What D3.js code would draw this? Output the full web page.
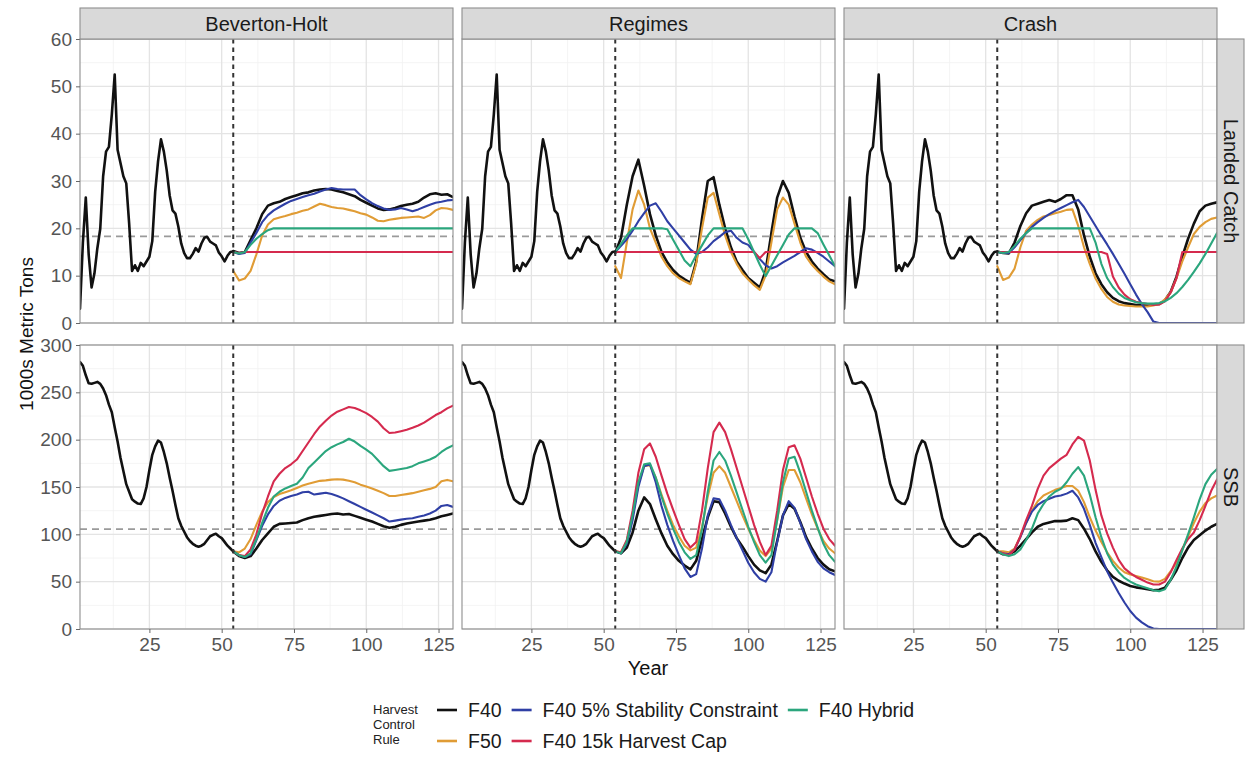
<!DOCTYPE html>
<html><head><meta charset="utf-8">
<script src="https://cdn.jsdelivr.net/npm/d3@7"></script>
<style>
body{margin:0;background:#fff}
svg{display:block}
text{font-family:"Liberation Sans",Arial,Helvetica,sans-serif}
</style>
</head><body>
<svg id="chart" width="1247" height="759"></svg>
<script>
// ---------------- DATA ----------------
const scenarios = ["Beverton-Holt", "Regimes", "Crash"];
const metrics = ["Landed Catch", "SSB"];
const rules = ["F40", "F50", "F40 5% Stability Constraint", "F40 15k Harvest Cap", "F40 Hybrid"];
const ruleColors = ["#111111", "#E09C35", "#2F3FA5", "#D52A4E", "#2BA67D"];

const xTicks = [25, 50, 75, 100, 125];
const xMinorTicks = [12.5, 37.5, 62.5, 87.5, 112.5];
const yTicksCatch = [0, 10, 20, 30, 40, 50, 60];
const yMinorCatch = [5, 15, 25, 35, 45, 55];
const yTicksSSB = [0, 50, 100, 150, 200, 250, 300];
const yMinorSSB = [25, 75, 125, 175, 225, 275];

const refCatch = 18.3;
const refSSB = 105.5;
const projStart = 54;

const histYears = [1,2,3,4,5,6,7,8,9,10,11,12,13,14,15,16,17,18,19,20,21,22,23,24,25,26,27,28,29,30,31,32,33,34,35,36,37,38,39,40,41,42,43,44,45,46,47,48,49,50,51,52,53,54];
const histCatch = [3,17,26.5,14.5,7.5,10.5,15.8,19.9,31,36.2,37.2,44,52.5,36.6,33.8,31,29.5,21,11,12.2,11,12.7,12,13,14,17.3,27.7,34.2,38.8,36.2,32.2,27,23.8,23.1,20.4,16.8,14.8,13.7,13.7,14.6,15.8,15.1,16.8,18,18.2,17.2,16.8,16.4,14.9,14.1,13,14.2,15,15.1];
const histSSB = [282,278,268,259.5,259,260,261,259,254,247,237,229,213,198,181,167,153,145,137,134.5,132.5,132,138,150,168,184,193,199,197,187,175,160,146,131,117,109,103,97,93,90,88,87,88,90,94,98,99.5,100.5,98,96,92,88,85,82];

const projYears = [54,56,58,60,62,64,66,68,70,72,74,76,78,80,82,84,86,88,90,92,94,96,98,100,102,104,106,108,110,112,114,116,118,120,122,124,126,128,130];

// Landed catch, Beverton-Holt
const catchBH_F40  = [15.2,14.8,15,17.5,20,23,24.8,25.3,25.6,26.2,26.6,27,27.4,27.6,28,28.2,28.3,28.2,27.9,27.6,27.2,26.8,26,25.4,24.8,24.2,23.9,24,24.3,24.7,25,25.2,25.6,26.5,27.2,27.4,27.1,27.2,26.6];
const catchBH_F50  = [11,9,9.4,11,14.5,18.5,20.8,21.9,22.3,22.6,23,23.3,23.7,24,24.6,25.2,24.9,24.5,24.3,24.2,23.9,23.6,23.2,22.9,22.3,21.6,21.5,21.8,22,22.2,22.3,22.4,22.5,22.2,22.8,23.8,24.3,24.2,23.9];
const catchBH_Stab = [15,14.6,14.8,17,19,21.3,22.8,23.8,24.5,25.2,25.8,26.2,26.6,27,27.3,27.8,28.2,28.5,28.3,28.2,28.2,28.2,27,26.1,25.3,24.7,24.2,23.9,24,24.3,24,23.6,24,24.5,25,25.4,25.6,25.9,26];
const catchBH_Cap  = [15,14.8,15,15,15,15,15,15,15,15,15,15,15,15,15,15,15,15,15,15,15,15,15,15,15,15,15,15,15,15,15,15,15,15,15,15,15,15,15];
const catchBH_Hyb  = [15,14.7,15,16.5,17.8,18.8,19.6,20,20,20,20,20,20,20,20,20,20,20,20,20,20,20,20,20,20,20,20,20,20,20,20,20,20,20,20,20,20,20,20];

// Landed catch, Regimes
const catchReg_F40  = [14.8,18,25,31,34.5,29,23,18.5,15,12.8,11.2,10,9.2,8.5,13,22,30,30.8,25,20,16,13,11.2,9.5,8.5,7.5,11,19,26.5,30,27.5,22.5,18,15,13,11.5,10.3,9.2,8.8];
const catchReg_F50  = [12,9.5,17,24,28,25,20,17,14,12,10.5,9.5,8.8,8.2,12.5,20,26.5,27.5,23,18.5,15,12.5,10.5,9.2,8,7,10,17,24,26.5,25,21,17,14,12.3,11,9.8,8.8,8.2];
const catchReg_Stab = [15,16.3,17.7,19.5,21.5,23.2,24.8,25.3,23.5,21.5,20,18.5,17,15.5,14.6,15,16,17.3,18.2,19.2,19.5,18,17,16.5,15,13.5,12.2,11.5,12,12.8,13.5,14.2,15,15.8,15.5,14.8,14,13,12];
const catchReg_Cap  = [15,15,15,15,15,15,15,15,15,15,15,15,15,15,15,15,15,15,15,15,15,15,15,15,15,13.7,15,15,15,15,15,15,15,15,15,15,15,15,15];
const catchReg_Hyb  = [15,16.7,18.5,20,20,20,20,20,20,19.8,17.6,15.4,13.2,12,14.3,16.4,18.5,20,20,20,20,20,20,17.7,15,12.3,9.9,12.1,14.3,16.5,18.7,20,20,20,20,19,16.6,14.3,12];

// Landed catch, Crash
const catchCr_F40  = [15.1,14.8,14.7,17,20.5,23.2,24.8,25.2,25.6,26,25.6,26.2,27,27,24,18.5,14,10.5,8.2,6.5,5.3,4.6,4.2,4,3.8,3.8,3.8,3.9,4,4.8,6.6,9.8,14,17.8,21,23.6,24.8,25.2,25.5];
const catchCr_F50  = [12,9.1,9.6,11.5,16,19.5,20.8,21.8,22.5,22.8,23.2,23.5,23.9,24,20.5,16,12.5,9.4,7.2,5.5,4.5,3.9,3.7,3.6,3.5,3.5,3.5,3.7,4,5,6.5,9.5,13,16,18.8,20.3,21.3,22,22.3];
const catchCr_Stab = [15,14.8,14.8,16,17.5,19,20.3,21.3,22.2,23,23.7,24.3,24.9,25.5,26,24.5,22.5,20.5,18.5,16.6,14.6,12.5,10.4,8.2,6,4,2.3,0.3,0,0,0,0,0,0,0,0,0,0,0];
const catchCr_Cap  = [15,15,15,15,15,15,15,15,15,15,15,15,15,15,15,15,15,15,15,14.6,9.8,7.5,6,5,4.5,4.2,4,3.8,3.9,4.6,6.5,9.5,15,15,15,15,15,15,15];
const catchCr_Hyb  = [15,14.8,15,16.3,17.8,19,20,20,20,20,20,20,20,20,20,20,20,17,12.5,9.5,7.6,6.2,5.3,4.8,4.4,4.2,4.1,4.1,4.2,4.6,5.3,6.3,7.6,9.1,10.8,12.6,14.6,16.8,19];

// SSB, Beverton-Holt
const ssbBH_F40  = [82,77,75,77,85,94,101,108,111,111.5,112,112.5,115,117,118.5,119.5,120.5,121.5,122,121,121.5,119.5,117.5,115.5,113.5,111,108.5,107,108,110,111.5,112.5,113.5,114.5,115.5,117,119,120.5,122];
const ssbBH_F50  = [82,81,85,95,110,124,134,139.5,142.5,144.5,146.5,149,151.5,153.5,155,156.5,157,157.8,158.2,157.8,156.5,155,152.5,150.5,148.5,146,143.5,140.5,140.5,141.5,142.5,143.5,145,146.5,148,150,156,157.5,156];
const ssbBH_Stab = [82,78,76,79,94,109,121,130,135.5,138.5,140.5,142,144.5,145,142,143,144,142.5,140.5,138,135,132,129,126,123,120,117,113.5,114.5,115.5,116.5,117,118.5,120,122,125,130,131,129];
const ssbBH_Cap  = [82,78,77,84,100,122,140,156,164,170,174,179,188,197,206,214,220,225.5,229.5,232,234.5,233.5,231,228,224,219,212,207,207.5,209,210.5,212.5,215,218,222,226,229,233,236];
const ssbBH_Hyb  = [82,78,76,80,95,112,128,140,145,148.5,151,153.5,160,170,176,182,188,192,195,197.5,201,198,193.5,189.5,185,178.5,172,167,168,169,170,172,175,177,179,182,187,191,194];

// SSB, Regimes
const ssbReg_F40  = [82,80,86,102,125,139,132,116,101,88,79,72,67,63,72,95,118,135,134,122,108,96,87,77,68,62,59,68,93,120,132,127,113,97,85,75,68,63,61];
const ssbReg_F50  = [82,81,93,120,153,172,173,160,142,125,110,98,88,83,86,108,140,165,172,165,150,135,120,106,94,83,77,85,115,150,168,168,155,138,121,106,93,85,80];
const ssbReg_Stab = [82,80,90,115,150,172,174,155,130,110,93,78,64,55,58,85,120,138,137,125,110,96,83,70,60,53,50,60,92,120,135,128,112,95,82,71,64,60,57];
const ssbReg_Cap  = [82,81,94,125,165,190,196,182,162,143,126,110,95,86,92,125,170,208,218,208,190,170,150,130,110,92,78,88,125,168,192,194,180,160,140,122,106,95,88];
const ssbReg_Hyb  = [82,80,92,120,155,174,175,160,140,122,106,92,81,74,78,105,145,178,187,178,162,144,126,108,92,78,70,78,115,155,180,182,165,145,125,107,90,78,71];

// SSB, Crash
const ssbCr_F40  = [82,79,79,82,88,95,102,108,111,112.5,114,114,114.5,117,115,106,95,82,71,62,55,51,48,45.5,44,43,42,41,41.5,43.5,52,62,75,86,94,99,104,108,111];
const ssbCr_F50  = [82,82,81,85,98,112,125,135,141,144,147,149,151,151,146,134,118,104,92,81,72,65,60,57.5,56,54.5,52.5,50.5,50,53,61,70,84,98,112,124,133,138,141];
const ssbCr_Stab = [82,80,79,84,97,112,124,131,135,137.5,140,141,143,146,139,127,110,91,76,61,49,38,28,19,12,7,3,0.5,0,0,0,0,0,0,0,0,0,0,0];
const ssbCr_Cap  = [82,80,78,84,98,115,130,148,162,170,175,180,184,195,203,199,178,147,120,101,86,73,64,59,55,52,49,47,47,50,60,73,85,95,102,115,130,146,158];
const ssbCr_Hyb  = [82,79,77,79,84,94,106,122,132,140,145,148,155,164,171,162,142,118,97,80,68,60,54,50,47,45,43,41,40,42,52,66,83,100,118,137,153,163,169];

// lookup built from the arrays above (order follows `rules`)
const projData = {
  "Landed Catch": {
    "Beverton-Holt": [catchBH_F40, catchBH_F50, catchBH_Stab, catchBH_Cap, catchBH_Hyb],
    "Regimes": [catchReg_F40, catchReg_F50, catchReg_Stab, catchReg_Cap, catchReg_Hyb],
    "Crash": [catchCr_F40, catchCr_F50, catchCr_Stab, catchCr_Cap, catchCr_Hyb]
  },
  "SSB": {
    "Beverton-Holt": [ssbBH_F40, ssbBH_F50, ssbBH_Stab, ssbBH_Cap, ssbBH_Hyb],
    "Regimes": [ssbReg_F40, ssbReg_F50, ssbReg_Stab, ssbReg_Cap, ssbReg_Hyb],
    "Crash": [ssbCr_F40, ssbCr_F50, ssbCr_Stab, ssbCr_Cap, ssbCr_Hyb]
  }
};
const histData = { "Landed Catch": histCatch, "SSB": histSSB };
const refData = { "Landed Catch": refCatch, "SSB": refSSB };
const yTickData = { "Landed Catch": yTicksCatch, "SSB": yTicksSSB };
const yMinorData = { "Landed Catch": yMinorCatch, "SSB": yMinorSSB };
const yDomain = { "Landed Catch": [0, 60], "SSB": [0, 300] };

// ---------------- LAYOUT ----------------
const svg = d3.select("#chart");
const panelLeft = [80, 462, 844];
const panelW = 373, panelH = 284;
const rowTop = [39, 345];
const stripTop = 8, stripH = 31;
const rightStripX = 1217, rightStripW = 27;

const x = d3.scaleLinear().domain([1, 130]).range([0, panelW]);
const gridMajor = "#E4E4E4", gridMinor = "#F1F1F1", borderCol = "#8E8E8E";

svg.append("rect").attr("width", 1247).attr("height", 759).attr("fill", "#fff");
const defs = svg.append("defs");

metrics.forEach((m, ri) => {
  const y = d3.scaleLinear().domain(yDomain[m]).range([panelH, 0]);
  scenarios.forEach((s, ci) => {
    const g = svg.append("g").attr("transform", `translate(${panelLeft[ci]},${rowTop[ri]})`);
    const cid = `clip-${ri}-${ci}`;
    defs.append("clipPath").attr("id", cid).append("rect")
      .attr("x", 0).attr("y", 0).attr("width", panelW).attr("height", panelH);

    g.append("rect").attr("width", panelW).attr("height", panelH).attr("fill", "#fff");
    // minor grid
    g.selectAll(".ymin").data(yMinorData[m]).enter().append("line")
      .attr("x1", 0).attr("x2", panelW).attr("y1", d => y(d)).attr("y2", d => y(d))
      .attr("stroke", gridMinor).attr("stroke-width", 0.8);
    g.selectAll(".xmin").data(xMinorTicks).enter().append("line")
      .attr("y1", 0).attr("y2", panelH).attr("x1", d => x(d)).attr("x2", d => x(d))
      .attr("stroke", gridMinor).attr("stroke-width", 0.8);
    // major grid
    g.selectAll(".ymaj").data(yTickData[m]).enter().append("line")
      .attr("x1", 0).attr("x2", panelW).attr("y1", d => y(d)).attr("y2", d => y(d))
      .attr("stroke", gridMajor).attr("stroke-width", 1.3);
    g.selectAll(".xmaj").data(xTicks).enter().append("line")
      .attr("y1", 0).attr("y2", panelH).attr("x1", d => x(d)).attr("x2", d => x(d))
      .attr("stroke", gridMajor).attr("stroke-width", 1.3);

    // reference dashed line
    g.append("line").attr("x1", 0).attr("x2", panelW)
      .attr("y1", y(refData[m])).attr("y2", y(refData[m]))
      .attr("stroke", "#9a9a9a").attr("stroke-width", 1.8).attr("stroke-dasharray", "7,5");

    const lg = g.append("g").attr("clip-path", `url(#${cid})`);
    const line = d3.line().x(d => x(d[0])).y(d => y(d[1]));

    // projections by rule
    projData[m][s].forEach((vals, k) => {
      const pts = projYears.map((yr, i) => [yr, vals[i]]);
      lg.append("path").attr("d", line(pts)).attr("fill", "none")
        .attr("stroke", ruleColors[k]).attr("stroke-width", k === 0 ? 2.6 : 2.1)
        .attr("stroke-linejoin", "round").attr("stroke-linecap", "round");
    });
    // history
    const hpts = histYears.map((yr, i) => [yr, histData[m][i]]);
    lg.append("path").attr("d", line(hpts)).attr("fill", "none")
      .attr("stroke", ruleColors[0]).attr("stroke-width", 2.6)
      .attr("stroke-linejoin", "round").attr("stroke-linecap", "round");

    // projection start
    g.append("line").attr("x1", x(projStart)).attr("x2", x(projStart))
      .attr("y1", 0).attr("y2", panelH)
      .attr("stroke", "#333").attr("stroke-width", 2).attr("stroke-dasharray", "4.5,4");

    g.append("rect").attr("width", panelW).attr("height", panelH)
      .attr("fill", "none").attr("stroke", borderCol).attr("stroke-width", 1.1);

    // axes
    if (ci === 0) {
      const ax = g.append("g").call(d3.axisLeft(y).tickValues(yTickData[m]).tickSize(4).tickPadding(4).tickFormat(d3.format("d")));
      ax.select(".domain").remove();
      ax.selectAll("line").attr("stroke", "#666");
      ax.selectAll("text").attr("fill", "#555").style("font-size", "19px")
        .style("font-family", "'Liberation Sans',Arial,sans-serif");
    }
    if (ri === 1) {
      const ax = g.append("g").attr("transform", `translate(0,${panelH})`)
        .call(d3.axisBottom(x).tickValues(xTicks).tickSize(4).tickPadding(5).tickFormat(d3.format("d")));
      ax.select(".domain").remove();
      ax.selectAll("line").attr("stroke", "#666");
      ax.selectAll("text").attr("fill", "#555").style("font-size", "19px")
        .style("font-family", "'Liberation Sans',Arial,sans-serif");
    }
  });
  // right strip
  svg.append("rect").attr("x", rightStripX).attr("y", rowTop[ri]).attr("width", rightStripW).attr("height", panelH)
    .attr("fill", "#D9D9D9").attr("stroke", borderCol).attr("stroke-width", 1.1);
  svg.append("text").attr("transform", `translate(${rightStripX + rightStripW / 2},${rowTop[ri] + panelH / 2}) rotate(90)`)
    .attr("text-anchor", "middle").attr("dominant-baseline", "central")
    .attr("fill", "#1a1a1a").style("font-size", "20px").text(m);
});

// top strips
scenarios.forEach((s, ci) => {
  svg.append("rect").attr("x", panelLeft[ci]).attr("y", stripTop).attr("width", panelW).attr("height", stripH)
    .attr("fill", "#D9D9D9").attr("stroke", borderCol).attr("stroke-width", 1.1);
  svg.append("text").attr("x", panelLeft[ci] + panelW / 2).attr("y", stripTop + stripH / 2)
    .attr("text-anchor", "middle").attr("dominant-baseline", "central")
    .attr("fill", "#1a1a1a").style("font-size", "20px").text(s);
});

// axis titles
svg.append("text").attr("transform", "translate(26,334) rotate(-90)")
  .attr("text-anchor", "middle").attr("dominant-baseline", "central")
  .attr("fill", "#111").style("font-size", "19px").text("1000s Metric Tons");
svg.append("text").attr("x", 648).attr("y", 668)
  .attr("text-anchor", "middle").attr("dominant-baseline", "central")
  .attr("fill", "#111").style("font-size", "20px").text("Year");

// legend
const legendTitle = ["Harvest", "Control", "Rule"];
const lgd = svg.append("g");
legendTitle.forEach((t, i) => {
  lgd.append("text").attr("x", 373).attr("y", 714 + i * 15)
    .attr("fill", "#222").style("font-size", "13px").text(t);
});
const legendCols = [[0, 1], [2, 3], [4]];
const rowY = [710, 741];
let colX = 437;
legendCols.forEach(col => {
  let maxW = 0;
  col.forEach((k, r) => {
    lgd.append("line").attr("x1", colX).attr("x2", colX + 20).attr("y1", rowY[r]).attr("y2", rowY[r])
      .attr("stroke", ruleColors[k]).attr("stroke-width", 2.6);
    const t = lgd.append("text").attr("x", colX + 31).attr("y", rowY[r]).attr("dominant-baseline", "central")
      .attr("fill", "#1a1a1a").style("font-size", "19.5px").text(rules[k]);
    maxW = Math.max(maxW, t.node().getComputedTextLength());
  });
  colX = colX + 31 + maxW + 10;
});
</script>
</body></html>
